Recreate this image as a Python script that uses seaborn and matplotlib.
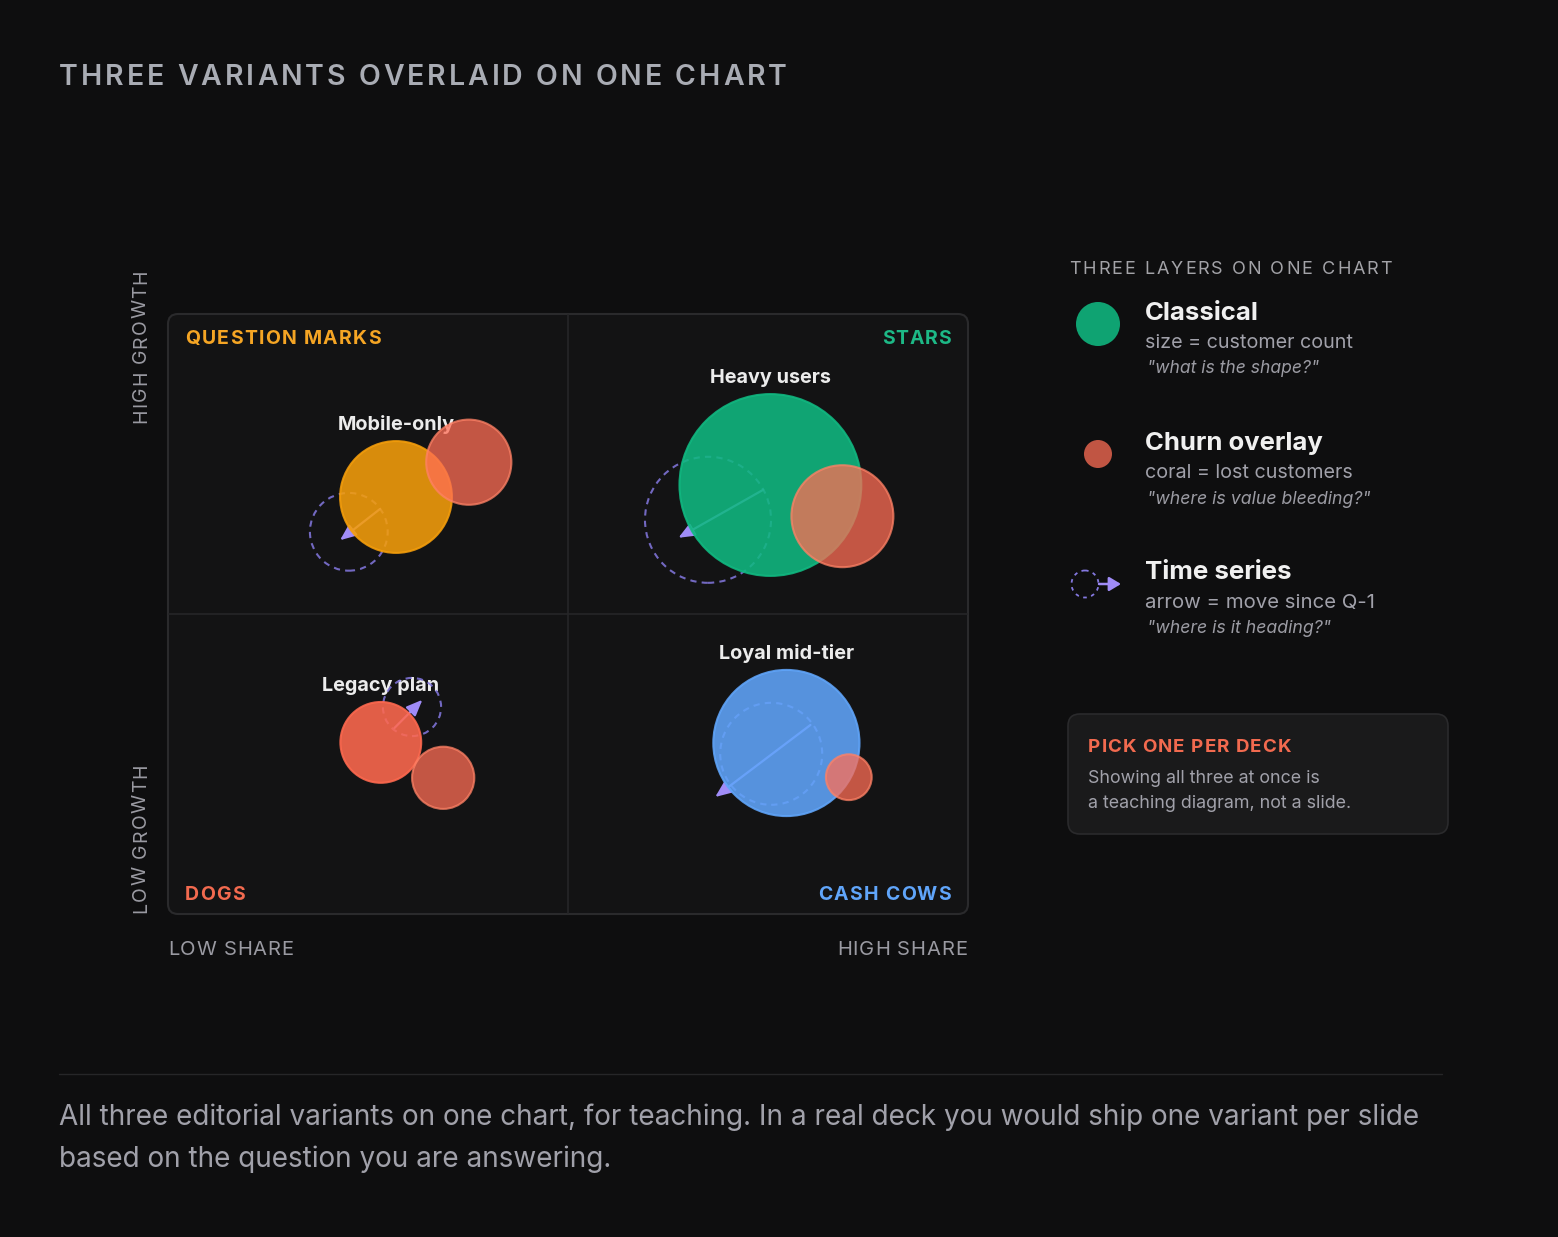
import numpy as np
import pandas as pd
import matplotlib
matplotlib.use('Agg')
import matplotlib.pyplot as plt
import seaborn as sns
from matplotlib.patches import FancyBboxPatch, Circle

# --- values ---
segments = ['Mobile-only', 'Heavy users', 'Legacy plan', 'Loyal mid-tier']
share = [28.5, 75.3, 26.6, 77.3]          # relative share, 0-100
growth = [69.5, 71.5, 28.6, 28.5]         # market growth, 0-100
customers = [15.5, 41.0, 8.1, 26.5]       # k customers -> bubble area
seg_colors = ['#f59e0b', '#10b981', '#ff694f', '#60a5fa']

churn_share = [37.6, 84.3, 34.4, 85.1]
churn_growth = [75.3, 66.3, 22.7, 22.8]
churned = [9.0, 12.9, 4.8, 2.6]           # k lost customers

prev_share = [22.6, 67.5, 30.5, 75.4]     # position one quarter ago
prev_growth = [63.7, 65.7, 34.5, 26.7]
prev_customers = [7.5, 19.7, 4.2, 12.9]

arrow_x0 = [26.5, 74.4, 28.3, 80.3]
arrow_y0 = [67.5, 70.7, 31.0, 31.5]
arrow_x1 = [21.5, 63.8, 31.8, 68.4]
arrow_y1 = [62.3, 62.7, 35.7, 19.5]

quadrants = ['QUESTION MARKS', 'STARS', 'DOGS', 'CASH COWS']
quad_colors = ['#f5a524', '#1db886', '#f26a4f', '#60a5fa']

title = 'THREE VARIANTS OVERLAID ON ONE CHART'
caption = ['All three editorial variants on one chart, for teaching. In a real deck you would ship one variant per slide',
           'based on the question you are answering.']

BG = '#0e0e0f'
PANEL = '#131314'
GRID = '#262628'
PURPLE = '#a08cf8'
DASH = '#8478e0'
CHURN = '#ff6e55'
K = 418.0   # points^2 of marker area per k customers

sns.set_theme(style='dark')
plt.rcParams['font.family'] = ['Inter', 'DejaVu Sans']

W, H = 1558, 1237
fig = plt.figure(figsize=(W / 100, H / 100), dpi=100)
fig.patch.set_facecolor(BG)
R = fig.canvas.get_renderer()

# overlay in pixel coordinates (y down) for the text and frames
ov = fig.add_axes([0, 0, 1, 1])
ov.set_xlim(0, W)
ov.set_ylim(H, 0)
ov.axis('off')
ov.set_zorder(0)

ax = fig.add_axes([168 / W, 1 - 914 / H, 800 / W, 600 / H])
ax.set_xlim(0, 100)
ax.set_ylim(0, 100)
ax.axis('off')
ax.set_zorder(1)


def tracked(x, y, s, span, size, rot=False, **kw):
    # letter-spaced caps: glyphs set one by one so the run covers `span` px
    def ink(txt):
        t = ov.text(0, 0, txt, fontsize=size, **kw)
        w = t.get_window_extent(R).width
        t.remove()
        return w
    wH = ink('H')
    gap = (span - ink(s)) / max(len(s) - 1, 1)
    for i, ch in enumerate(s):
        if ch == ' ':
            continue
        off = (ink(s[:i] + 'H') - wH if i else 0) + i * gap
        if rot:
            ov.text(x, y - off, ch, fontsize=size, rotation=90, rotation_mode='anchor',
                    ha='left', va='baseline', **kw)
        else:
            ov.text(x + off, y, ch, fontsize=size, ha='left', va='baseline', **kw)


def fitted(x, y, s, span, **kw):
    t = ov.text(x, y, s, fontsize=20, va='baseline', **kw)
    t.set_fontsize(20 * span / t.get_window_extent(R).width)
    return t


# panel
ov.add_patch(FancyBboxPatch((168, 314), 800, 600, boxstyle='round,pad=0,rounding_size=10',
                            fc=PANEL, ec='#2a2a2c', lw=1.5, zorder=0))
ax.axvline(50, color=GRID, lw=1.2, zorder=0)
ax.axhline(50, color=GRID, lw=1.2, zorder=0)

# time-series layer (under the bubbles)
ax.scatter(prev_share, prev_growth, s=K * np.array(prev_customers), facecolors='none',
           edgecolors=DASH, linewidths=1.5, linestyles=(0, (3, 2.5)), alpha=0.85, zorder=2,
           clip_on=False)
for x0, y0, x1, y1 in zip(arrow_x0, arrow_y0, arrow_x1, arrow_y1):
    ax.annotate('', xy=(x1, y1), xytext=(x0, y0), zorder=2,
                arrowprops=dict(arrowstyle='-|>,head_length=0.6,head_width=0.25', color=PURPLE,
                                lw=1.6, shrinkA=0, shrinkB=0, mutation_scale=16))

# classical bubbles
main = pd.DataFrame({'segment': segments, 'share': share, 'growth': growth, 'customers': customers})
sns.scatterplot(data=main, x='share', y='growth', hue='segment',
                palette=dict(zip(segments, seg_colors)), size='customers',
                sizes=(0, K * 50), size_norm=(0, 50), alpha=0.88, edgecolor=seg_colors,
                linewidth=1.5, legend=False, ax=ax, zorder=3, clip_on=False)

# churn overlay
churn = pd.DataFrame({'share': churn_share, 'growth': churn_growth, 'churned': churned})
sns.scatterplot(data=churn, x='share', y='growth', size='churned', sizes=(0, K * 50),
                size_norm=(0, 50), color=CHURN, alpha=0.75, edgecolor='#ff8266', linewidth=1.5,
                legend=False, ax=ax, zorder=4, clip_on=False)
ax.set_xlim(0, 100)
ax.set_ylim(0, 100)
ax.axis('off')

# bubble names sit just above each bubble
for seg, x, y, c in zip(segments, share, growth, customers):
    ax.annotate(seg, xy=(x, y), xytext=(0, np.sqrt(K * c) / 2 + 8), textcoords='offset points',
                ha='center', va='baseline', fontsize=14.3, fontweight='bold', color='#ececec',
                zorder=1)

# quadrant names
tracked(185, 344, quadrants[0], 196, 14, color=quad_colors[0], fontweight='bold')
tracked(882, 344, quadrants[1], 69, 14, color=quad_colors[1], fontweight='bold')
tracked(185, 900, quadrants[2], 60, 14, color=quad_colors[2], fontweight='bold')
tracked(818, 900, quadrants[3], 133, 14, color=quad_colors[3], fontweight='bold')

# axis names
AX = '#9a9aa2'
tracked(146, 423, 'HIGH GROWTH', 153, 14, rot=True, color=AX)
tracked(146, 913, 'LOW GROWTH', 149, 14, rot=True, color=AX)
tracked(168, 955, 'LOW SHARE', 125, 14.5, color=AX)
tracked(837, 955, 'HIGH SHARE', 130, 14.5, color=AX)

# title
tracked(59, 85, title, 728, 20.5, color='#a9acb4', fontweight='semibold')

# legend
GREY = '#a1a1aa'
ITAL = '#9b9ba3'
tracked(1069, 274, 'THREE LAYERS ON ONE CHART', 323, 13, color='#a3a3a8')
ov.add_patch(Circle((1098, 324), 22, fc=seg_colors[1], alpha=0.88, ec='none'))
ov.add_patch(Circle((1098, 454), 14, fc=CHURN, alpha=0.75, ec='none'))
ov.add_patch(Circle((1085, 584), 13.5, fill=False, ec=DASH, lw=1.3, ls=(0, (2, 2.5))))
ov.annotate('', xy=(1121, 584), xytext=(1099, 584),
            arrowprops=dict(arrowstyle='-|>,head_length=0.5,head_width=0.3', color=PURPLE,
                            lw=1.8, shrinkA=0, shrinkB=0, mutation_scale=14))

fitted(1145, 320, 'Classical', 114, color='#f0f0f0', fontweight='bold')
fitted(1145, 348, 'size = customer count', 208, color=GREY)
fitted(1147, 373, '"what is the shape?"', 172, color=ITAL, style='italic')
fitted(1145, 450, 'Churn overlay', 178, color='#f0f0f0', fontweight='bold')
fitted(1145, 478, 'coral = lost customers', 208, color=GREY)
fitted(1147, 504, '"where is value bleeding?"', 224, color=ITAL, style='italic')
fitted(1145, 579, 'Time series', 147, color='#f0f0f0', fontweight='bold')
fitted(1145, 608, 'arrow = move since Q-1', 230, color=GREY)
fitted(1147, 633, '"where is it heading?"', 184, color=ITAL, style='italic')

# note box
ov.add_patch(FancyBboxPatch((1068, 714), 380, 120, boxstyle='round,pad=0,rounding_size=12',
                            fc='#1a1a1b', ec='#2a2a2c', lw=1.2))
tracked(1088, 752, 'PICK ONE PER DECK', 203, 13.5, color=quad_colors[2], fontweight='bold')
fitted(1088, 783, 'Showing all three at once is', 232, color=GREY)
fitted(1088, 808, 'a teaching diagram, not a slide.', 264, color=GREY)

# footer
ov.plot([59, 1442], [1074, 1074], color=GRID, lw=1)
t = fitted(59, 1125, caption[0], 1362, color=GREY)
ov.text(59, 1167, caption[1], fontsize=t.get_fontsize(), va='baseline', color=GREY)

fig.savefig('out.png', dpi=100, facecolor=BG)
